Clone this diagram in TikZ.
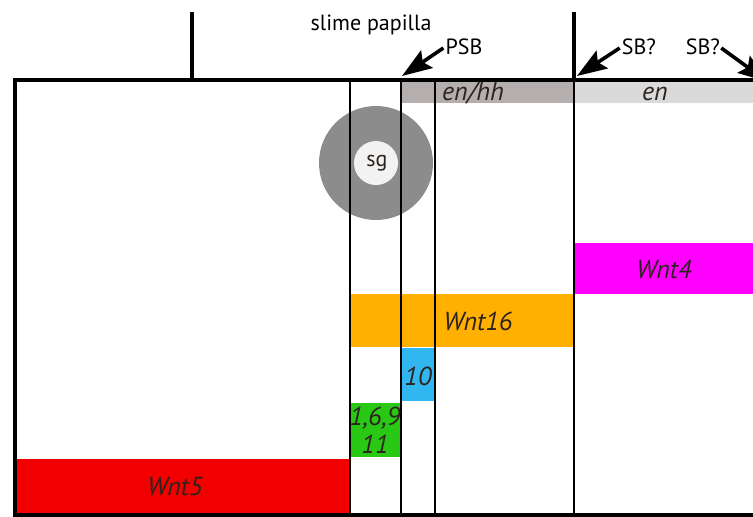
\documentclass[tikz,border=0pt]{standalone}
\usepackage{fontspec}
\setmainfont{PT Sans}
\usetikzlibrary{arrows.meta,positioning}
\definecolor{bandgray}{RGB}{181,174,174}
\definecolor{bandlight}{RGB}{218,218,218}
\definecolor{ringgray}{RGB}{140,140,140}
\definecolor{coregray}{RGB}{242,242,242}
\definecolor{wntorange}{RGB}{255,176,0}
\definecolor{wntmagenta}{RGB}{255,0,255}
\definecolor{wntblue}{RGB}{50,182,240}
\definecolor{wntgreen}{RGB}{40,200,20}
\definecolor{wntred}{RGB}{242,0,0}
\definecolor{labelink}{RGB}{45,35,30}

\begin{document}
\begin{tikzpicture}[x=1pt,y=-1pt,
  wall/.style={line width=4.5pt},
  divider/.style={line width=2.8pt},
  genelabel/.style={font=\fontsize{26}{28}\selectfont\itshape, text=labelink, inner sep=0pt, align=center},
  toplabel/.style={font=\fontsize{22}{26}\selectfont, inner sep=0pt},
  pointer/.style={-{Stealth[length=30pt,width=21pt,inset=5pt]}, line width=3.6pt}]

  % Frame of the picture
  \clip (0,0) rectangle (753,517);
  \fill[white] (0,0) rectangle (753,517);

  % Expression bands
  \fill[bandgray] (401,82) rectangle (574,103);
  \fill[bandlight] (574,82) rectangle (753,103);
  \fill[wntmagenta] (574,243) rectangle (753,294);
  \fill[wntorange] (350,294) rectangle (574,347);
  \fill[wntblue] (401,348) rectangle (435,401);
  \fill[wntgreen] (350,403) rectangle (401,457);
  \fill[wntred] (15,459) rectangle (350,514);

  % Slime gland
  \fill[ringgray] (376,163) circle (57);
  \fill[coregray] (376,163) circle (22);

  % Segment walls
  \draw[wall] (192,12) -- (192,80);
  \draw[wall] (574,12) -- (574,80);
  \draw[wall] (13,80) -- (753,80);
  \draw[wall] (15,80) -- (15,515);
  \draw[wall] (13,515) -- (753,515);
  \draw[divider] (350,80) -- (350,515);
  \draw[divider] (401,80) -- (401,515);
  \draw[divider] (435,80) -- (435,515);
  \draw[divider] (574,80) -- (574,515);

  % Gene labels
  \node[genelabel] (enhh) at (473,93) {en/hh};
  \node[genelabel] (en) at (655,94) {en};
  \node[toplabel, text=labelink] (sg) at (377,163) {sg};
  \node[genelabel] (wnt4) at (664,269) {Wnt4};
  \node[genelabel] (wnt16) at (478,321) {Wnt16};
  \node[genelabel] (wnt10) at (418,376) {10};
  \node[genelabel] (wntmix) at (375,430) {1,6,9\\11};
  \node[genelabel] (wnt5) at (175,487) {Wnt5};

  % Top labels and boundary arrows
  \node[toplabel] (papilla) at (371,25) {slime papilla};
  \node[toplabel] (psb) at (464,47) {PSB};
  \node[toplabel] (sbl) at (639,47) {SB?};
  \node[toplabel] (sbr) at (703,47) {SB?};

  \coordinate (psbtip) at (402,76);
  \coordinate (sbltip) at (577,76);
  \coordinate (sbrtip) at (768,82);

  \draw[pointer] ([xshift=-2pt,yshift=-1pt]psb.west) -- (psbtip);
  \draw[pointer] ([xshift=-2pt,yshift=-1pt]sbl.west) -- (sbltip);
  \draw[pointer] ([xshift=1pt,yshift=-1pt]sbr.east) -- (sbrtip);

\end{tikzpicture}
\end{document}
